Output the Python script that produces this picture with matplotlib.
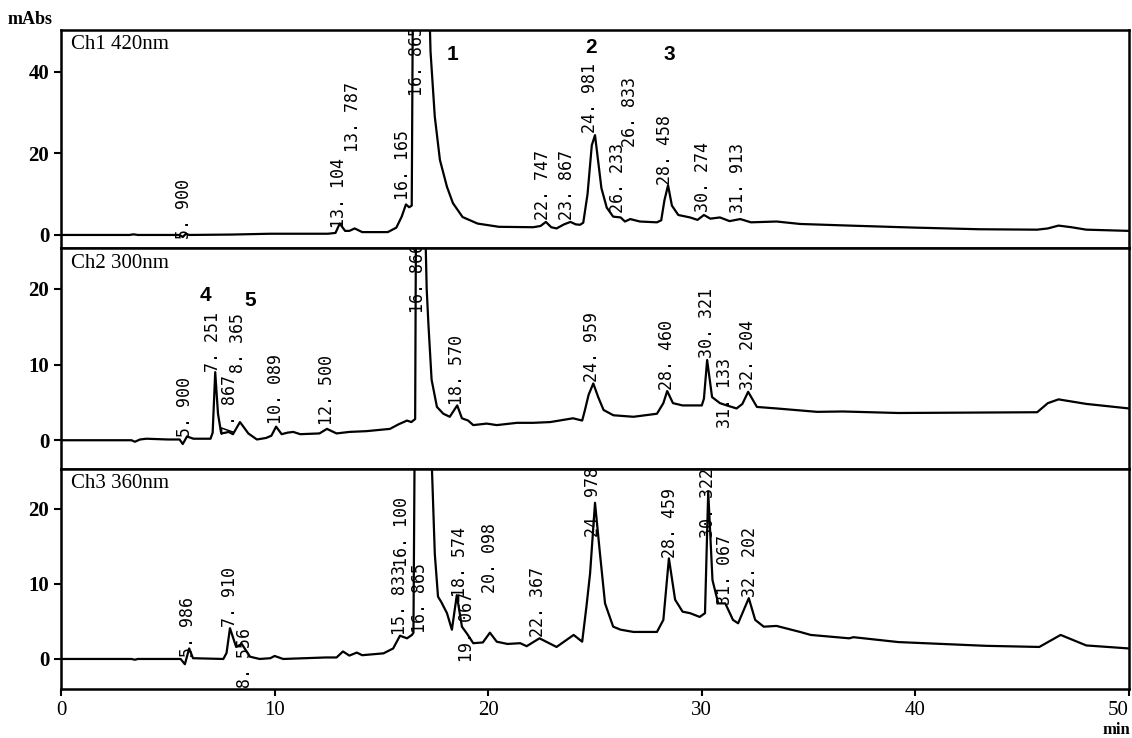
"""
Three-channel HPLC chromatogram (420, 300 and 360 nm)
"""

import matplotlib
matplotlib.use('Agg')
import matplotlib.pyplot as plt

# ---------------------------------------------------------------------------- #
# Data (time in min, signal in mAbs)
# ---------------------------------------------------------------------------- #

ch1_t = [0, 3.2, 3.4, 3.6, 5.55, 5.7, 5.85, 6.0, 8.0, 9.8, 12.5, 12.85, 13.05,
         13.3, 13.5, 13.75, 14.1, 15.3, 15.7, 15.95, 16.15, 16.3, 16.42, 16.47,
         16.87, 17.25, 17.3, 17.5, 17.74, 18.07, 18.35, 18.8, 19.5, 20.5, 22.1,
         22.45, 22.7, 22.95, 23.2, 23.55, 23.85, 24.1, 24.3, 24.45, 24.65, 24.85,
         25.0, 25.15, 25.3, 25.55, 25.85, 26.2, 26.4, 26.65, 27.1, 27.9, 28.1,
         28.25, 28.42, 28.6, 28.9, 29.45, 29.8, 30.1, 30.4, 30.85, 31.3, 31.8,
         32.3, 33.5, 34.6, 36.9, 40.0, 43.0, 45.7, 46.2, 46.7, 47.3, 48.0, 50.0]
ch1_y = [0, 0, 0.15, 0, 0, -0.5, 0.3, 0, 0.1, 0.3, 0.3, 0.5, 2.8,
         1.0, 1.0, 1.6, 0.7, 0.7, 1.8, 4.5, 7.5, 6.8, 7.2, 55,
         150, 55, 45, 29, 18.4, 11.8, 7.8, 4.4, 2.8, 2.0, 1.9,
         2.2, 3.2, 1.9, 1.6, 2.6, 3.2, 2.6, 2.5, 3.0, 10, 22,
         24.5, 18, 11.5, 6.7, 4.5, 4.3, 3.3, 3.9, 3.3, 3.1, 3.6,
         8.5, 12.2, 7.2, 4.9, 4.3, 3.7, 4.9, 4.0, 4.3, 3.4, 3.9,
         3.1, 3.3, 2.7, 2.3, 1.8, 1.4, 1.3, 1.6, 2.3, 1.9, 1.3, 1.0]

ch2_t = [0, 3.3, 3.46, 3.7, 4.0, 5.0, 5.55, 5.7, 5.9, 6.2, 7.0, 7.1, 7.22, 7.35,
         7.5, 7.7, 7.85, 8.05, 8.38, 8.77, 9.17, 9.6, 9.85, 10.07, 10.33, 10.6,
         10.87, 11.2, 12.1, 12.45, 12.9, 13.5, 14.3, 15.4, 15.8, 16.2, 16.4,
         16.58, 16.62, 16.9, 17.04, 17.12, 17.2, 17.35, 17.6, 17.9, 18.2, 18.55,
         18.77, 19.06, 19.3, 19.93, 20.4, 21.35, 22.1, 22.9, 23.97, 24.4, 24.53,
         24.7, 24.92, 25.15, 25.4, 25.86, 26.8, 27.9, 28.2, 28.38, 28.65, 29.1,
         30.0, 30.1, 30.25, 30.48, 30.85, 31.17, 31.63, 31.9, 32.17, 32.58, 33.5,
         35.4, 36.6, 39.2, 45.7, 46.2, 46.7, 48.0, 50.0]
ch2_y = [0, 0, -0.2, 0.1, 0.2, 0.1, 0.1, -0.5, 0.5, 0.2, 0.2, 1.0, 9.0, 3.5,
         0.9, 1.0, 1.1, 0.8, 2.4, 0.9, 0.1, 0.3, 0.6, 1.8, 0.8, 1.0,
         1.1, 0.8, 0.9, 1.5, 0.9, 1.1, 1.2, 1.5, 2.1, 2.6, 2.4,
         2.8, 30, 60, 30, 20, 15.4, 8, 4.4, 3.5, 3.1, 4.6,
         2.9, 2.6, 2.0, 2.2, 2.0, 2.3, 2.3, 2.4, 2.9, 2.6, 4.0,
         6.0, 7.5, 5.7, 4.0, 3.3, 3.1, 3.5, 4.9, 6.5, 4.9, 4.6,
         4.6, 5.5, 10.6, 5.7, 4.9, 4.6, 4.2, 4.8, 6.4, 4.4, 4.2,
         3.75, 3.8, 3.6, 3.7, 4.9, 5.4, 4.8, 4.2]

ch3_t = [0, 3.3, 3.46, 3.6, 5.6, 5.8, 6.0, 6.18, 7.6, 7.75, 7.91, 8.2, 8.46,
         8.85, 9.3, 9.8, 10.0, 10.4, 12.4, 12.9, 13.2, 13.5, 13.85, 14.1, 15.1,
         15.55, 15.87, 16.2, 16.43, 16.5, 16.56, 16.95, 17.3, 17.37, 17.5, 17.65,
         17.8, 18.07, 18.3, 18.53, 18.77, 19.0, 19.3, 19.75, 20.08, 20.4, 20.9,
         21.5, 21.8, 22.4, 23.2, 24.0, 24.4, 24.6, 24.77, 25.0, 25.23, 25.47,
         25.85, 26.2, 26.8, 27.9, 28.2, 28.46, 28.75, 29.1, 29.45, 29.9, 30.15,
         30.3, 30.5, 30.77, 31.1, 31.46, 31.7, 32.2, 32.5, 32.9, 33.5, 34.6, 35.1,
         36.9, 37.1, 39.2, 43.3, 45.8, 46.8, 48.0, 50.0]
ch3_y = [0, 0, -0.1, 0, 0, -0.7, 1.4, 0.1, 0, 0.8, 4.1, 1.6, 2.0,
         0.3, 0, 0.1, 0.4, 0, 0.2, 0.2, 1.0, 0.45, 0.85, 0.5, 0.75,
         1.4, 3.1, 2.75, 3.2, 3.5, 30, 80, 35, 25, 14, 8.3,
         7.6, 6.1, 3.9, 8.5, 4.3, 3.4, 2.1, 2.2, 3.5, 2.3, 2.0,
         2.1, 1.7, 2.75, 1.6, 3.2, 2.3, 7, 11.4, 20.8, 14.1, 7.4,
         4.3, 3.9, 3.6, 3.6, 5.2, 13.4, 7.9, 6.3, 6.1, 5.6, 6.1,
         22.3, 10.5, 7.4, 7.4, 5.2, 4.75, 8.1, 5.2, 4.3, 4.4, 3.6, 3.2,
         2.75, 2.9, 2.25, 1.75, 1.6, 3.2, 1.8, 1.4]

# Peak annotations: retention-time text, anchor time, anchor height
ch1_labels = ['5. 900', '13. 104', '13. 787', '16. 165', '16. 865', '22. 747',
              '23. 867', '24. 981', '26. 233', '26. 833', '28. 458', '30. 274',
              '31. 913']
ch1_lab_t = [5.75, 13.0, 13.68, 16.0, 16.67, 22.57, 23.7, 24.77, 26.1, 26.64,
             28.28, 30.06, 31.7]
ch1_lab_y = [-1.0, 1.8, 20.4, 8.6, 34.0, 3.7, 3.7, 25.0, 5.4, 21.6, 12.3, 5.6, 5.4]

ch2_labels = ['5. 900', '7. 251', '7. 867', '8. 365', '10. 089', '12. 500',
              '16. 866', '18. 570', '24. 959', '28. 460', '30. 321', '31. 133',
              '32. 204']
ch2_lab_t = [5.8, 7.13, 7.9, 8.3, 10.07, 12.45, 16.72, 18.53, 24.86, 28.37,
             30.24, 31.09, 32.16]
ch2_lab_y = [0.4, 9.0, 0.7, 8.9, 2.2, 2.0, 16.8, 4.6, 7.7, 6.6, 10.8, 1.6, 6.6]

ch3_labels = ['5. 986', '7. 910', '8. 556', '15. 833', '16. 100', '16. 865',
              '18. 574', '19. 067', '20. 098', '22. 367', '24. 978', '28. 459',
              '30. 322', '31. 067', '32. 202']
ch3_lab_t = [5.95, 7.91, 8.6, 15.87, 15.95, 16.8, 18.68, 19.0, 20.08, 22.33,
             24.9, 28.5, 30.3, 31.1, 32.26]
ch3_lab_y = [0.3, 4.3, -3.9, 3.2, 12.3, 3.5, 8.3, -0.4, 8.8, 2.9, 16.3, 13.5,
             16.1, 7.2, 8.3]

# Compound numbers (bold) drawn in the upper two channels
ch1_cmp = ['1', '2', '3']
ch1_cmp_t = [18.35, 24.8, 28.5]
ch1_cmp_y = [44.2, 46.1, 44.2]
ch2_cmp = ['4', '5']
ch2_cmp_t = [6.74, 8.85]
ch2_cmp_y = [19.1, 18.5]

titles = ['Ch1 420nm', 'Ch2 300nm', 'Ch3 360nm']
yticks = [[0, 20, 40], [0, 10, 20], [0, 10, 20]]
ylims = [(-3.2, 50.3), (-3.8, 25.4), (-4.0, 25.3)]
xticks = [0, 10, 20, 30, 40, 50]

# ---------------------------------------------------------------------------- #
# Plot
# ---------------------------------------------------------------------------- #

W, H = 1132, 738
fig, axarray = plt.subplots(3, 1, sharex=True, figsize=(W / 100, H / 100), dpi=100,
                            gridspec_kw={'hspace': 0, 'height_ratios': [218, 221, 220]})
fig.subplots_adjust(left=61 / W, right=1129 / W, top=1 - 30 / H, bottom=1 - 689 / H)

serif = 'Liberation Serif'
mono = ['DejaVu Sans Mono']

traces = [(ch1_t, ch1_y), (ch2_t, ch2_y), (ch3_t, ch3_y)]
labels = [(ch1_labels, ch1_lab_t, ch1_lab_y), (ch2_labels, ch2_lab_t, ch2_lab_y),
          (ch3_labels, ch3_lab_t, ch3_lab_y)]
compounds = [(ch1_cmp, ch1_cmp_t, ch1_cmp_y), (ch2_cmp, ch2_cmp_t, ch2_cmp_y), ([], [], [])]

for i, ax in enumerate(axarray):
    t, y = traces[i]
    ax.plot(t, y, color='black', lw=1.6, solid_joinstyle='round')

    # retention times, rotated and clipped at the panel edges
    for text, lt, ly in zip(*labels[i]):
        ax.text(lt, ly, text, rotation=90, ha='center', va='bottom',
                family=mono, fontsize=12, clip_on=True)

    for text, ct, cy in zip(*compounds[i]):
        ax.text(ct, cy, text, ha='center', va='center', family='Liberation Sans',
                fontweight='bold', fontsize=15)

    ax.text(0.009, 0.975, titles[i], transform=ax.transAxes, ha='left', va='top',
            family=serif, fontsize=15)

    ax.set_xlim(0, 50)
    ax.set_ylim(*ylims[i])
    ax.set_yticks(yticks[i])
    for spine in ax.spines.values():
        spine.set_linewidth(1.8)
    ax.tick_params(axis='both', direction='out', length=5, width=1.5, labelsize=15)
    for lab in ax.get_yticklabels():
        lab.set_family(serif)
        lab.set_fontweight('bold')
    if i < 2:
        ax.tick_params(axis='x', bottom=False, labelbottom=False)

axarray[-1].set_xticks(xticks)
xlabs = axarray[-1].get_xticklabels()
for lab in xlabs:
    lab.set_family(serif)
xlabs[-1].set_horizontalalignment('right')

fig.text(8 / W, 1 - 20 / H, 'mAbs', ha='left', va='center', family=serif,
         fontweight='bold', fontsize=13)
fig.text(1130 / W, 1 - 730 / H, 'min', ha='right', va='center', family=serif,
         fontweight='bold', fontsize=12)

fig.savefig('out.png', dpi=100)
plt.close()
